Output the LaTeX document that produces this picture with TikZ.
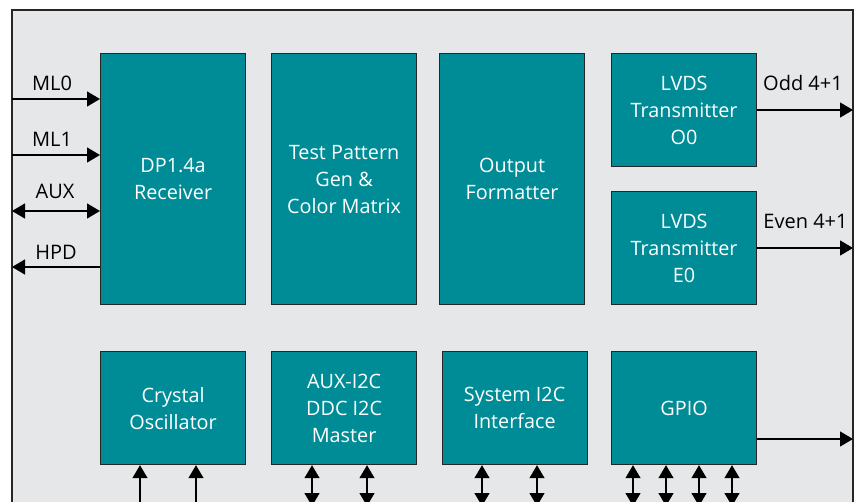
\documentclass[tikz,border=0pt]{standalone}
\usepackage{fontspec}
\setmainfont{Open Sans}
\usetikzlibrary{arrows.meta}
\definecolor{tealblk}{RGB}{0,140,150}
\definecolor{bggray}{RGB}{230,231,232}
\begin{document}
\begin{tikzpicture}[x=1pt,y=-1pt,
  blk/.style={draw=black!85, line width=1.2pt, fill=tealblk, text=white, align=center,
    font=\fontsize{19.8}{27}\selectfont, inner sep=0pt, anchor=north west, minimum width=145pt},
  tall/.style={minimum height=251pt},
  short/.style={minimum height=113pt},
  sig/.style={line width=1.3pt, -{Triangle[length=13pt,width=15pt]}},
  bidir/.style={line width=1.3pt, {Triangle[length=13pt,width=15pt]}-{Triangle[length=13pt,width=15pt]}},
  lbl/.style={font=\fontsize{20}{24}\selectfont, text=black, anchor=base, inner sep=0pt}]
\useasboundingbox (0,0) rectangle (858,502);
\fill[white] (0,0) rectangle (858,502);
\draw[fill=bggray, line width=1.3pt, draw=black!85] (12,10) rectangle (853,540);

% top row
\node[blk, tall]  (dp) at (100,53) {DP1.4a\\Receiver};
\node[blk, tall]  (tp) at (271,53) {Test Pattern\\Gen \&\\Color Matrix};
\node[blk, tall]  (of) at (439,53) {Output\\Formatter};
\node[blk, short] (o0) at (611,53) {LVDS\\Transmitter\\O0};
\node[blk, short] (e0) at (611,191) {LVDS\\Transmitter\\E0};
% bottom row
\node[blk, short] (xo) at (100,351) {Crystal\\Oscillator};
\node[blk, short] (ai) at (271,351) {AUX-I2C\\DDC I2C\\Master};
\node[blk, short] (si) at (441.5,351) {System I2C\\Interface};
\node[blk, short] (gp) at (611,351) {GPIO};

% left signals
\coordinate (l0) at (12,99);
\coordinate (l1) at (12,155);
\coordinate (l2) at (12,211);
\coordinate (l3) at (12,267);
\draw[sig] (l0) -- (dp.west |- l0);
\draw[sig] (l1) -- (dp.west |- l1);
\draw[bidir] (l2) -- (dp.west |- l2);
\draw[sig] (dp.west |- l3) -- (l3);
\node[lbl] (tml0) at (52,91) {ML0};
\node[lbl] (tml1) at (52,147) {ML1};
\node[lbl] (taux) at (55,199) {AUX};
\node[lbl] (thpd) at (56,260) {HPD};

% right signals
\coordinate (r0) at (853,110);
\coordinate (r1) at (853,248);
\coordinate (r2) at (853,439);
\draw[sig] (o0.east |- r0) -- (r0);
\draw[sig] (e0.east |- r1) -- (r1);
\draw[sig] (gp.east |- r2) -- (r2);
\node[lbl] (todd) at (803,91) {Odd 4+1};
\node[lbl] (teven) at (805.5,229) {Even 4+1};

% bottom signals
\coordinate (b1) at (140,506);
\coordinate (b2) at (196,506);
\coordinate (b3) at (312,506);
\coordinate (b4) at (367,506);
\coordinate (b5) at (482,506);
\coordinate (b6) at (537,506);
\coordinate (b7) at (633,506);
\coordinate (b8) at (666,506);
\coordinate (b9) at (699,506);
\coordinate (b10) at (732,506);
\draw[sig] (b1) -- (xo.south -| b1);
\draw[sig] (b2) -- (xo.south -| b2);
\draw[bidir] (ai.south -| b3) -- (b3);
\draw[bidir] (ai.south -| b4) -- (b4);
\draw[bidir] (si.south -| b5) -- (b5);
\draw[bidir] (si.south -| b6) -- (b6);
\draw[bidir] (gp.south -| b7) -- (b7);
\draw[bidir] (gp.south -| b8) -- (b8);
\draw[bidir] (gp.south -| b9) -- (b9);
\draw[bidir] (gp.south -| b10) -- (b10);
\end{tikzpicture}
\end{document}
